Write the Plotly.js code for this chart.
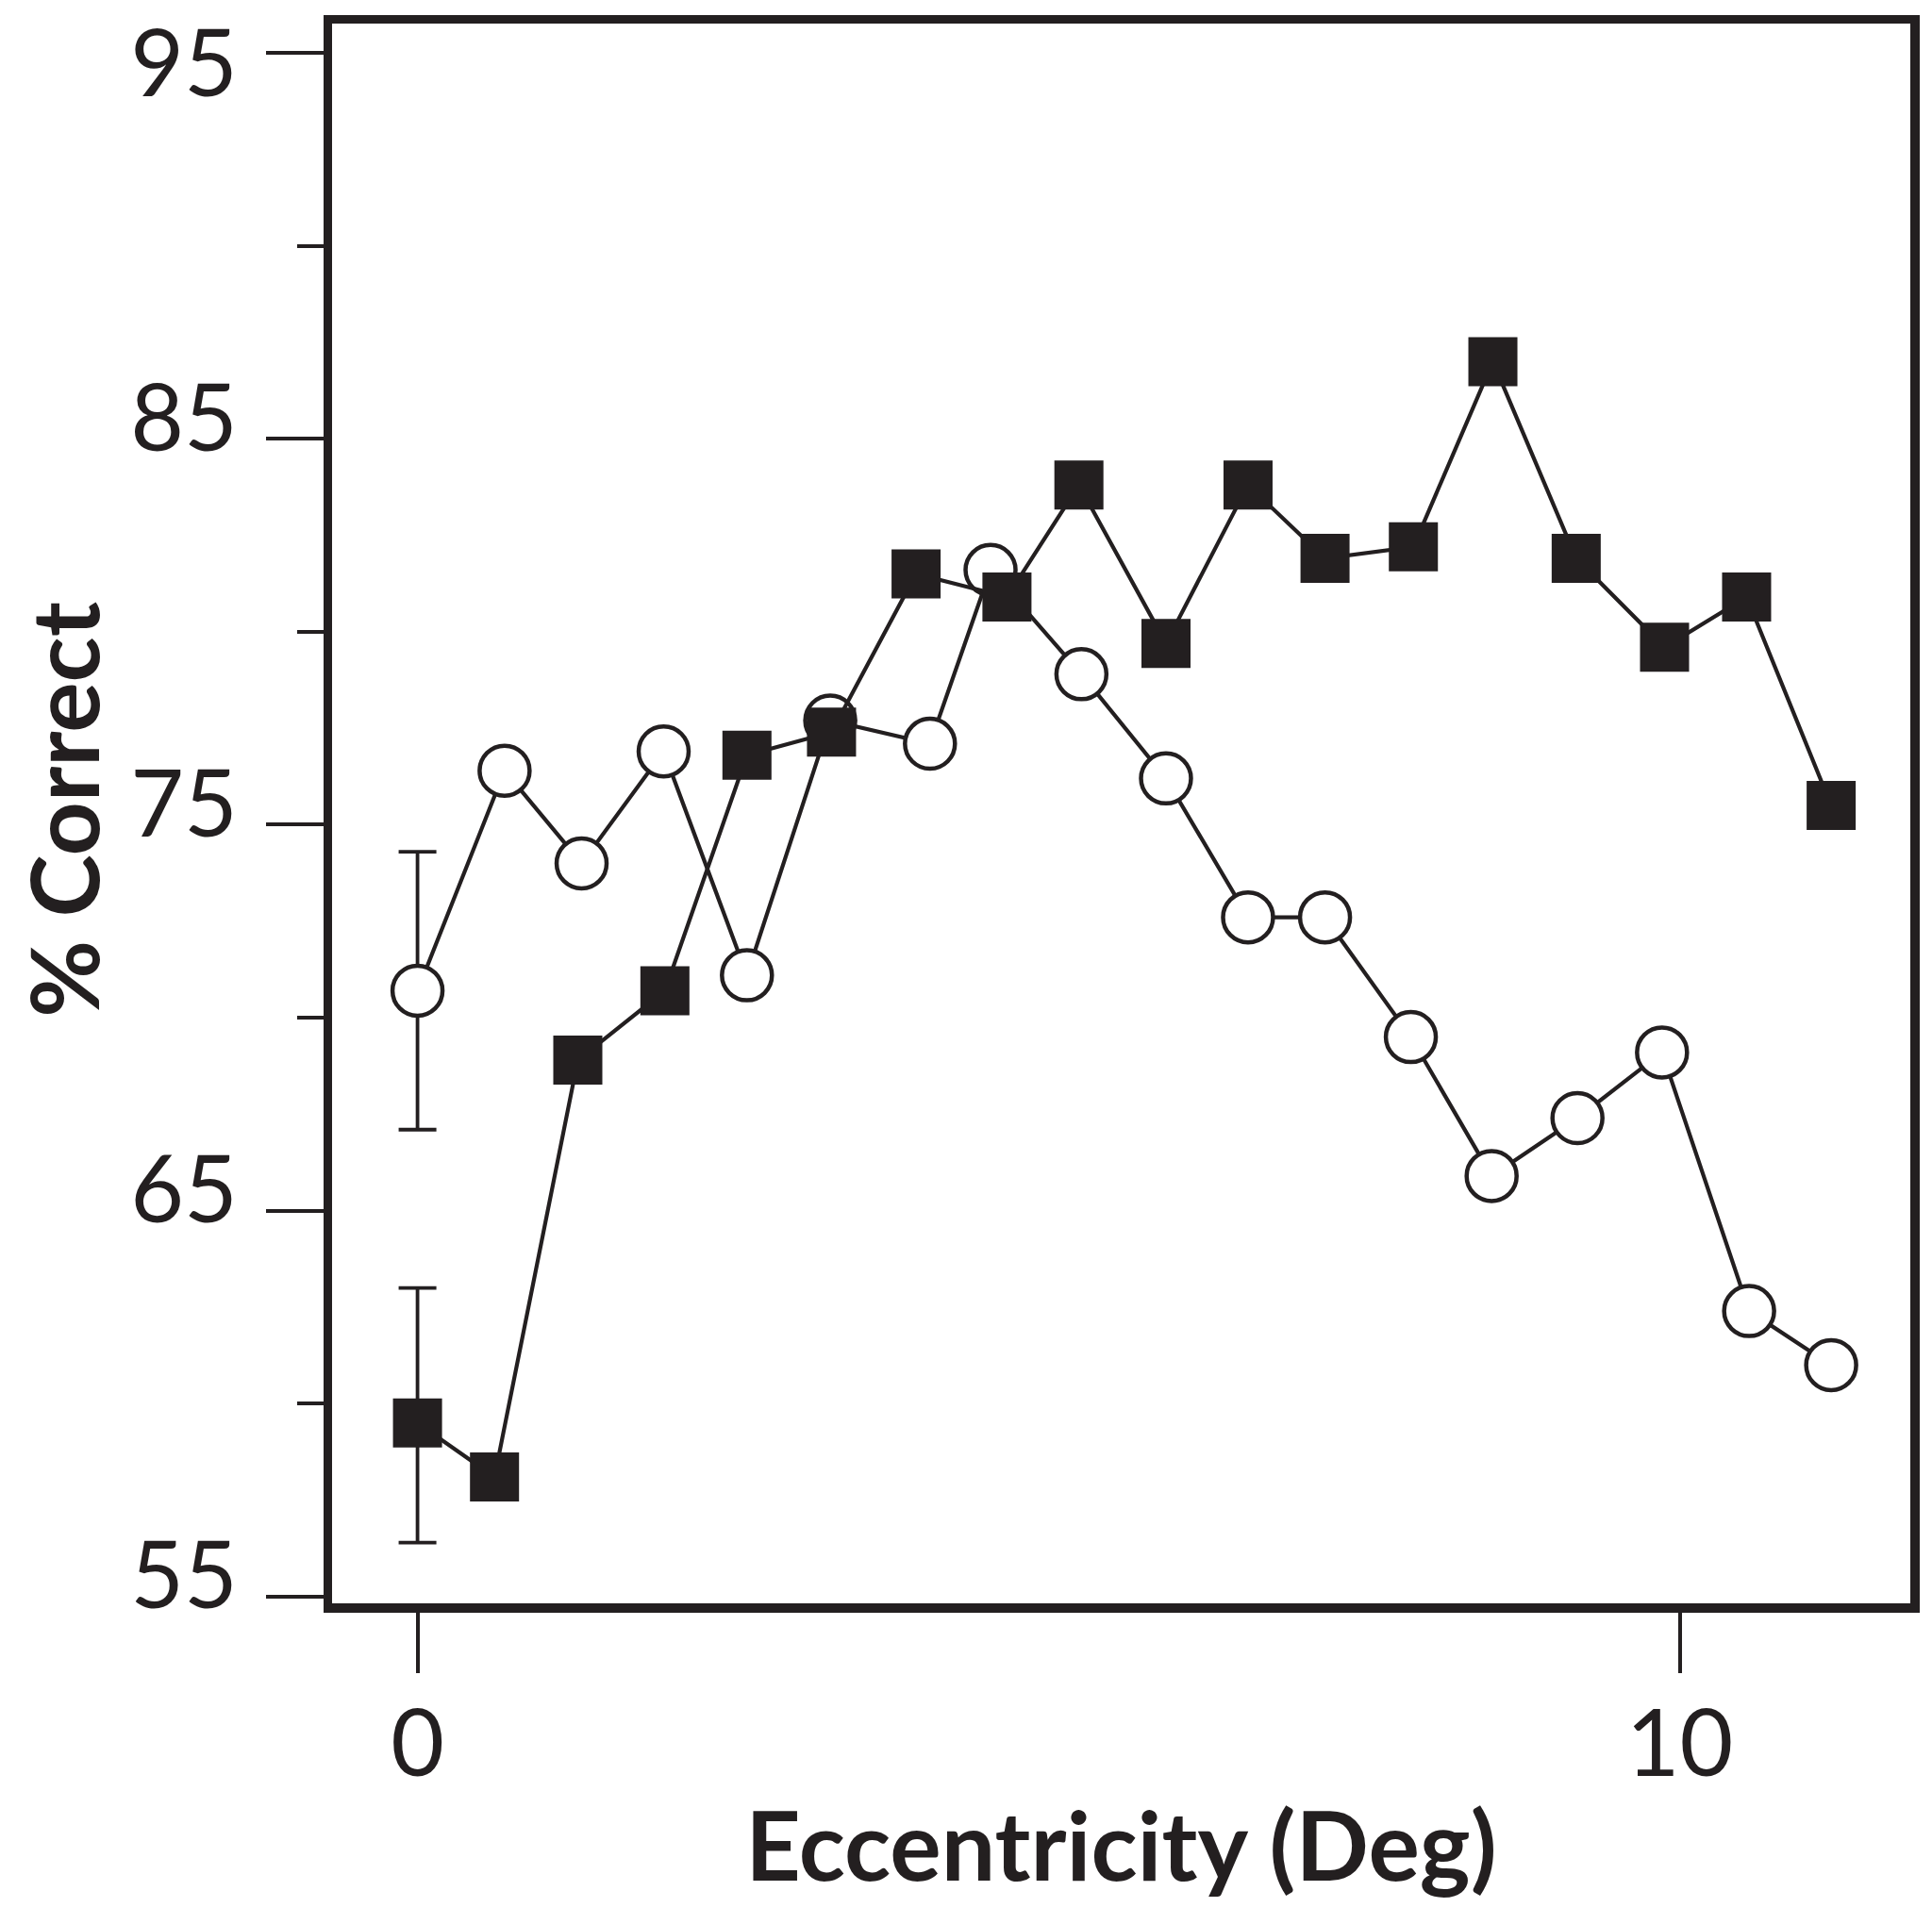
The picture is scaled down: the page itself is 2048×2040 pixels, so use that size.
<!DOCTYPE html>
<html>
<head>
<meta charset="utf-8">
<script src="https://cdn.plot.ly/plotly-3.0.1.min.js"></script>
<style>html,body{margin:0;padding:0;background:#fff;}#chart{width:2048px;height:2040px;}</style>
</head>
<body>
<div id="chart"></div>
<script>
// Eccentricity (deg) and % correct
const eccOpen = [0, 0.69, 1.30, 1.95, 2.61, 3.27, 4.06, 4.54, 5.26, 5.93, 6.58, 7.19, 7.87, 8.51, 9.19, 9.86, 10.55, 11.20];
const pctOpen = [70.7, 76.4, 74.0, 76.9, 71.1, 77.7, 77.1, 81.6, 78.9, 76.2, 72.6, 72.6, 69.5, 65.9, 67.4, 69.1, 62.4, 61.0];
const errOpenPlus  = [3.6];
const errOpenMinus = [3.6];

const eccFilled = [0, 0.61, 1.27, 1.96, 2.61, 3.28, 3.95, 4.67, 5.24, 5.93, 6.58, 7.19, 7.89, 8.52, 9.18, 9.88, 10.53, 11.20];
const pctFilled = [59.5, 58.1, 68.9, 70.7, 76.8, 77.4, 81.5, 80.9, 83.8, 79.7, 83.8, 81.9, 82.2, 87.0, 81.9, 79.6, 80.9, 75.5];
const errFilledPlus  = [3.5];
const errFilledMinus = [3.1];

const yTickVals = [55, 65, 75, 85];
const yTickText = ['55', '65', '75', '85'];
const yTopTickVals = [95];
const yTopTickText = ['95'];
const xTickVals = [0, 10];
const xTickText = ['0', '10'];
const xTitle = 'Eccentricity (Deg)';
const yTitle = '% Correct';

const ink = '#231f20';
const yRange = [54.828, 95.757];

function padErr(arr, n) { const out = arr.slice(); while (out.length < n) out.push(null); return out; }

const traces = [
  {
    // invisible carrier so the overlaying top-label axis is drawn
    x: eccOpen, y: pctOpen, type: 'scatter', mode: 'lines', yaxis: 'y2',
    line: {color: ink, width: 0}, opacity: 0, hoverinfo: 'skip', showlegend: false
  },
  {
    x: eccOpen, y: pctOpen, type: 'scatter', mode: 'lines+markers', name: 'open',
    line: {color: ink, width: 4.2},
    marker: {symbol: 'circle', size: 53, color: '#ffffff', line: {color: ink, width: 4.5}},
    error_y: {type: 'data', symmetric: false, array: padErr(errOpenPlus, eccOpen.length),
              arrayminus: padErr(errOpenMinus, eccOpen.length), color: ink, thickness: 3.8, width: 20}
  },
  {
    x: eccFilled, y: pctFilled, type: 'scatter', mode: 'lines+markers', name: 'filled',
    line: {color: ink, width: 4.2},
    marker: {symbol: 'square', size: 52, color: ink, line: {width: 0}},
    error_y: {type: 'data', symmetric: false, array: padErr(errFilledPlus, eccFilled.length),
              arrayminus: padErr(errFilledMinus, eccFilled.length), color: ink, thickness: 3.8, width: 20}
  }
];

const tickFont = {family: 'Lato, "Open Sans", sans-serif', size: 98, color: ink, weight: 400};
const titleFont = {family: 'Lato, "Open Sans", sans-serif', size: 102, color: ink, weight: 700};
const yTitleFont = {family: 'Lato, "Open Sans", sans-serif', size: 100, color: ink, weight: 700};

const layout = {
  width: 2048, height: 2040,
  margin: {l: 352, r: 23, t: 25, b: 340, pad: 0},
  paper_bgcolor: '#ffffff', plot_bgcolor: '#ffffff',
  showlegend: false,
  xaxis: {
    range: [-0.677, 11.827], autorange: false,
    tickmode: 'array', tickvals: xTickVals, ticktext: xTickText,
    ticks: 'outside', ticklen: 64, tickwidth: 4, tickcolor: ink,
    showline: true, linewidth: 9.5, linecolor: ink, mirror: true,
    showgrid: false, zeroline: false,
    tickfont: tickFont, ticklabelstandoff: -8, ticklabeloverflow: 'allow',
    title: {text: xTitle, font: titleFont, standoff: 23}
  },
  yaxis: {
    range: yRange, autorange: false,
    tickmode: 'array', tickvals: yTickVals, ticktext: yTickText,
    ticks: 'outside', ticklen: 61, tickwidth: 4, tickcolor: ink,
    minor: {tickmode: 'linear', tick0: 55, dtick: 5, ticks: 'outside', ticklen: 28, tickwidth: 4, tickcolor: ink},
    showline: true, linewidth: 9.5, linecolor: ink, mirror: true,
    showgrid: false, zeroline: false,
    tickfont: tickFont, ticklabelstandoff: 10, ticklabelshift: -22, ticklabeloverflow: 'allow'
  },
  yaxis2: {
    overlaying: 'y', side: 'left', anchor: 'x',
    range: yRange, autorange: false,
    tickmode: 'array', tickvals: yTopTickVals, ticktext: yTopTickText,
    ticks: 'outside', ticklen: 61, tickwidth: 4, tickcolor: ink,
    showline: true, linewidth: 9.5, linecolor: ink,
    showgrid: false, zeroline: false,
    tickfont: tickFont, ticklabelstandoff: 10, ticklabelshift: 12, ticklabeloverflow: 'allow'
  },
  annotations: [{
    text: yTitle, font: yTitleFont, textangle: -90, showarrow: false,
    xref: 'paper', yref: 'paper', x: -0.1711, y: 0.5027, xanchor: 'center', yanchor: 'middle'
  }]
};

Plotly.newPlot('chart', traces, layout, {displayModeBar: false, staticPlot: true});
</script>
</body>
</html>
